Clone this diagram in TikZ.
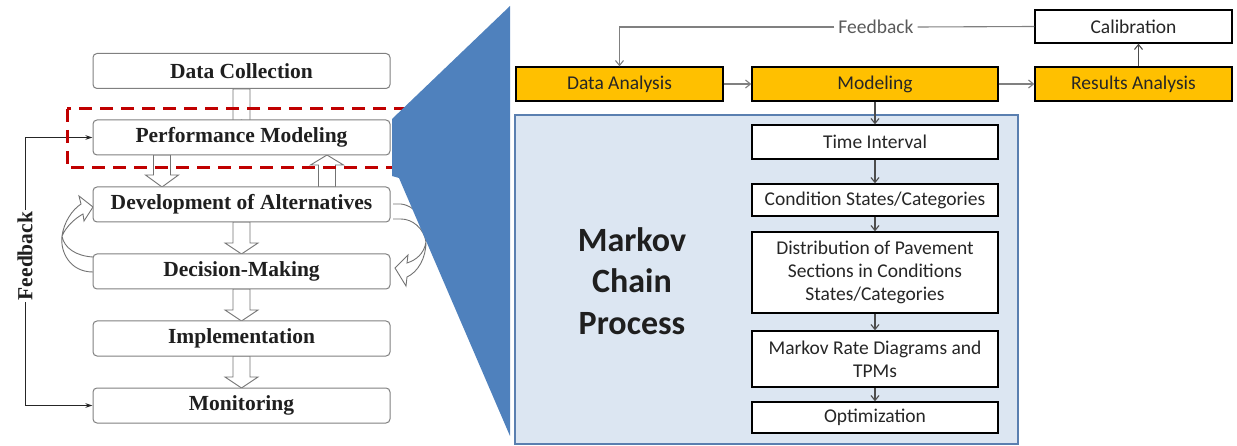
\documentclass[tikz,border=0pt]{standalone}
\usepackage{fontspec}
\setmainfont{Liberation Serif}
\newfontfamily\calfont{Carlito}
\usetikzlibrary{calc,arrows.meta}
\definecolor{orangeA}{HTML}{FFC000}
\definecolor{blueA}{HTML}{4F81BD}
\definecolor{panelfill}{HTML}{DCE6F2}
\definecolor{panelline}{HTML}{5A7FB0}
\definecolor{redA}{HTML}{C00000}
\newcommand{\vblk}[4]{%
 \draw[hollow] let \p1=($(#2)+(#1,0)$), \p2=($(#3)+(#1,0)$) in
 ({\x1-8.5pt},\y1) -- ({\x1-8.5pt},{\y2+(#4)}) -- ({\x1-16.5pt},{\y2+(#4)}) -- (\x2,\y2)
 -- ({\x1+16.5pt},{\y2+(#4)}) -- ({\x1+8.5pt},{\y2+(#4)}) -- ({\x1+8.5pt},\y1) -- cycle;}
\begin{document}
\begin{tikzpicture}[x=1pt,y=-1pt,
 lbox/.style={draw=black!50, fill=white, rounded corners=4pt, line width=1pt, minimum width=297pt, minimum height=35pt, inner sep=0pt, font=\fontsize{21.5}{24}\selectfont\bfseries, text=black!88},
 obox/.style={draw=black, fill=orangeA, line width=1.3pt, minimum height=34pt, inner sep=0pt, font=\calfont\fontsize{19.5}{22}\selectfont, text=black!85},
 wbox/.style={draw=black, fill=white, line width=1.3pt, inner sep=0pt, minimum width=246pt, font=\calfont\fontsize{19.5}{23}\selectfont, align=center, text=black!85},
 hollow/.style={draw=black!55, fill=white, line width=0.9pt, line join=miter},
 thinarr/.style={draw=black!70, line width=1.1pt, -{Straight Barb[length=5pt,width=8pt]}},
 greyline/.style={draw=black!50, line width=1.1pt},
 fbarr/.style={draw=black!85, line width=1pt, -{Stealth[length=7pt,width=4.5pt]}},
]
\useasboundingbox (0,0) rectangle (1237,446);

% ---------- left flow ----------
\vblk{0}{241.5,89}{241.5,120}{-9pt}
\vblk{-79.5}{241.5,155}{241.5,187}{12pt}
\vblk{85.5}{241.5,187}{241.5,155}{-10pt}
\vblk{0}{241.5,222}{241.5,254}{11pt}
\vblk{0}{241.5,289}{241.5,321}{11pt}
\vblk{0}{241.5,356}{241.5,388}{11pt}

% curved hollow arrows
\draw[hollow] (93,272) .. controls (70,272) and (60,252) .. (62,236)
 .. controls (64,222) and (72,210) .. (81,204)
 -- (79,196) -- (93,207) -- (84,221) -- (83,214)
 .. controls (74,219) and (66,227) .. (62,236)
 .. controls (64,248) and (76,256) .. (93,257);
\draw[hollow] (393,204) -- (401,204) .. controls (418,206) and (428,226) .. (426,242)
 .. controls (424,254) and (416,260) .. (407,263)
 -- (408,255) -- (395,268) -- (406,286) -- (407,277)
 .. controls (418,272) and (426,258) .. (426,242)
 .. controls (424,228) and (412,219) .. (401,219) -- (393,219);

\node[lbox] (dc)  at (241.5,71)    {Data Collection};
\node[lbox] (pm)  at (241.5,137.5) {Performance Modeling};
\node[lbox] (dev) at (241.5,204.5) {Development of Alternatives};
\node[lbox] (dm)  at (241.5,271.5) {Decision-Making};
\node[lbox] (imp) at (241.5,338.5) {Implementation};
\node[lbox] (mon) at (241.5,405.5) {Monitoring};

% feedback loop on the left
\coordinate (ftop) at (25,137.5);
\coordinate (fbot) at (25,405.5);
\draw[draw=black!85, line width=1pt] (ftop) -- (fbot);
\draw[fbarr] (ftop) -- (pm.west);
\draw[fbarr] (fbot) -- (mon.west);
\node[rotate=90, fill=white, inner sep=1.5pt, font=\fontsize{21.5}{24}\selectfont\bfseries, text=black!88] (fbl) at (25,256) {Feedback};

% red dashed frame
\draw[redA, line width=3pt, dash pattern=on 13pt off 8pt] (67,109) rectangle (430,168);

% blue zoom shape
\fill[blueA] (510,6) -- (392,119) -- (392,176) -- (399,178) -- (510,436) -- cycle;

% ---------- right panel ----------
\node[draw=panelline, fill=panelfill, line width=1.5pt, minimum width=503pt, minimum height=329pt, inner sep=0pt] (panel) at (766.5,279.5) {};
\node[font=\calfont\bfseries\fontsize{34}{41.5}\selectfont, align=center, text=black!88] (mcp) at (632,281) {Markov\\Chain\\Process};

\node[obox, minimum width=207pt] (da)  at (619.5,84)  {Data Analysis};
\node[obox, minimum width=246pt] (mod) at (875,84)    {Modeling};
\node[obox, minimum width=197pt] (ra)  at (1133.5,84) {Results Analysis};
\node[wbox, minimum width=197pt, minimum height=33pt] (cal) at (1133.5,26.5) {Calibration};
\node[font=\calfont\fontsize{19.5}{22}\selectfont, text=black!65, inner sep=4pt] (fb) at (876,27) {Feedback};

\node[wbox, minimum height=34pt] (ti)   at (875,142)   {Time Interval};
\node[wbox, minimum height=32pt] (cs)   at (875,200)   {Condition States/Categories};
\node[wbox, minimum height=81pt] (dist) at (875,272.5) {Distribution of Pavement\\Sections in Conditions\\States/Categories};
\node[wbox, minimum height=56pt] (mrd)  at (875,359)   {Markov Rate Diagrams and\\TPMs};
\node[wbox, minimum height=31pt] (opt)  at (875,417.5) {Optimization};

\draw[greyline] (cal.west) -- (fb.east);
\draw[greyline, -{Straight Barb[length=5pt,width=8pt]}] (fb.west) -| (da.north);
\draw[thinarr, draw=black!50] (da.east) -- (mod.west);
\draw[thinarr, draw=black!50] (mod.east) -- (ra.west);
\draw[thinarr] ($(ra.north)+(5,0)$) -- ($(cal.south)+(5,0)$);
\draw[thinarr] (mod.south) -- (ti.north);
\draw[thinarr] (ti.south) -- (cs.north);
\draw[thinarr] (cs.south) -- (dist.north);
\draw[thinarr] (dist.south) -- (mrd.north);
\draw[thinarr] (mrd.south) -- (opt.north);
\end{tikzpicture}
\end{document}
